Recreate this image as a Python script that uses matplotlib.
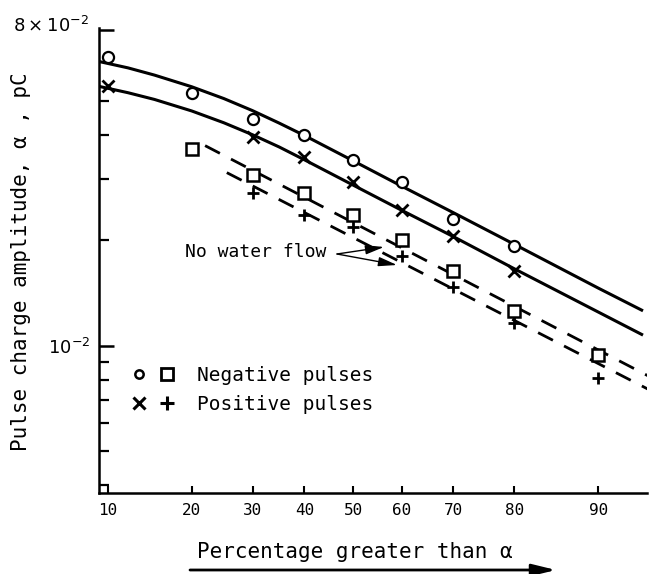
import numpy as np
import matplotlib
matplotlib.use('Agg')
import matplotlib.pyplot as plt
from matplotlib.lines import Line2D
from matplotlib.legend_handler import HandlerTuple
from matplotlib.transforms import ScaledTranslation
from statistics import NormalDist

# ---------------- data ----------------
pct_neg_circ = [10, 20, 30, 40, 50, 60, 70, 80]
amp_neg_circ = [0.0671, 0.0527, 0.0445, 0.0400, 0.0340, 0.0293, 0.0230, 0.0193]
pct_pos_cross = [10, 30, 40, 50, 60, 70, 80]
amp_pos_cross = [0.0554, 0.0396, 0.0346, 0.0294, 0.0244, 0.0206, 0.0164]
pct_neg_sq = [20, 30, 40, 50, 60, 70, 80, 90]
amp_neg_sq = [0.0364, 0.0308, 0.0273, 0.0236, 0.0200, 0.0164, 0.0126, 0.00939]
pct_pos_plus = [30, 40, 50, 60, 70, 80, 90]
amp_pos_plus = [0.0274, 0.0236, 0.0218, 0.0180, 0.0147, 0.0116, 0.00806]

# fitted curves (water flow)
curve_pct = [9.3, 12, 15, 20, 25, 30, 35, 40, 50, 60, 70, 80, 90, 93.5]
curve_neg = [0.0649, 0.0623, 0.0594, 0.0550, 0.0509, 0.0470, 0.0433, 0.0399,
             0.0338, 0.0286, 0.0240, 0.0195, 0.0146, 0.01258]
curve_pos = [0.0551, 0.0529, 0.0506, 0.0469, 0.0434, 0.0401, 0.0370, 0.0340,
             0.0288, 0.0244, 0.0205, 0.0166, 0.01247, 0.01072]

# fitted straight lines (no water flow)
flow_neg_pct = [22.0, 93.8]
flow_neg_amp = [0.03733, 0.00821]
flow_pos_pct = [25.5, 93.8]
flow_pos_amp = [0.03125, 0.00752]

xtick_vals = [10, 20, 30, 40, 50, 60, 70, 80, 90]
xtick_labels = ['10', '20', '30', '40', '50', '60', '70', '80', '90']
ytick_major = [8e-2, 1e-2]
ytick_major_labels = [r'$8\times10^{-2}$', r'$10^{-2}$']
ytick_minor = [5e-2, 4e-2, 3e-2, 2e-2, 9e-3, 8e-3, 7e-3, 6e-3, 5e-3, 4e-3]

# ---------------- style ----------------
plt.rcParams['font.family'] = ['DejaVu Sans Mono', 'DejaVu Sans']
plt.rcParams['mathtext.fontset'] = 'dejavusans'

fig = plt.figure(figsize=(6.56, 5.74), dpi=100)
W, H = 656, 574
L, R, T, B = 99, 647, 28, 493
ax = fig.add_axes([L / W, 1 - B / H, (R - L) / W, (B - T) / H])

_nd = NormalDist()
_ppf = np.vectorize(_nd.inv_cdf, otypes=[float])
_cdf = np.vectorize(_nd.cdf, otypes=[float])


def _fwd(p):
    p = np.clip(np.asarray(p, float) / 100.0, 1e-6, 1 - 1e-6)
    return _ppf(p)


def _inv(z):
    return 100.0 * _cdf(np.asarray(z, float))


ax.set_xscale('function', functions=(_fwd, _inv))
ax.set_yscale('log')

# curves
ax.plot(curve_pct, curve_neg, color='black', lw=2.2, solid_capstyle='butt')
ax.plot(curve_pct, curve_pos, color='black', lw=2.2, solid_capstyle='butt')
ax.plot(flow_neg_pct, flow_neg_amp, color='black', lw=2.0, dashes=(6, 4.5))
ax.plot(flow_pos_pct, flow_pos_amp, color='black', lw=2.0, dashes=(6, 4.5))

# markers
ax.plot(pct_neg_circ, amp_neg_circ, ls='none', marker='o', ms=8, mfc='white',
        mec='black', mew=1.6)
ax.plot(pct_pos_cross, amp_pos_cross, ls='none', marker='x', ms=8.5,
        mec='black', mew=2.0)
ax.plot(pct_neg_sq, amp_neg_sq, ls='none', marker='s', ms=9, mfc='white',
        mec='black', mew=1.8)
ax.plot(pct_pos_plus, amp_pos_plus, ls='none', marker='+', ms=9,
        mec='black', mew=2.0)

ax.set_xlim(9.24, 93.76)
ax.set_ylim(3.79e-3, 8.1e-2)

# spines
for s in ['top', 'right']:
    ax.spines[s].set_visible(False)
for s in ['left', 'bottom']:
    ax.spines[s].set_linewidth(1.8)

# ticks
ax.set_xticks(xtick_vals)
ax.set_xticklabels(xtick_labels)
ax.xaxis.set_minor_locator(matplotlib.ticker.NullLocator())
ax.tick_params(axis='x', which='major', direction='in', length=5, width=1.5,
               pad=7, labelsize=11.5)

ax.set_yticks(ytick_major)
ax.set_yticklabels(ytick_major_labels)
ax.set_yticks(ytick_minor, minor=True)
ax.yaxis.set_minor_formatter(matplotlib.ticker.NullFormatter())
ax.tick_params(axis='y', which='major', direction='in', length=11, width=1.8,
               pad=6, labelsize=13)
ax.tick_params(axis='y', which='minor', direction='in', length=7, width=1.6)

for lab in ax.get_yticklabels():
    if '8' in lab.get_text():
        lab.set_transform(lab.get_transform() +
                          ScaledTranslation(-1 / 72, 4 / 72, fig.dpi_scale_trans))

# axis labels
ax.set_ylabel('Pulse charge amplitude, α , pC', fontsize=15)
ax.yaxis.set_label_coords((21 - L) / (R - L), (B - 262) / (B - T))
ax.yaxis.label.set_va('center')
ax.set_xlabel('Percentage greater than α', fontsize=15)
ax.xaxis.set_label_coords((355 - L) / (R - L), (B - 542) / (B - T))

# arrow under the x label
ax.annotate('', xy=((556 - L) / (R - L), (B - 570) / (B - T)),
            xytext=((190 - L) / (R - L), (B - 570) / (B - T)),
            xycoords='axes fraction', textcoords='axes fraction',
            annotation_clip=False,
            arrowprops=dict(arrowstyle='-|>,head_length=0.9,head_width=0.22',
                            lw=2.0, color='black', shrinkA=0, shrinkB=0,
                            mutation_scale=16))

# "No water flow" annotation
tx, ty = (185 - L) / (R - L), (B - 252) / (B - T)
sx, sy = (337 - L) / (R - L), (B - 254) / (B - T)
ax.text(tx, ty, 'No water flow', transform=ax.transAxes, fontsize=13,
        ha='left', va='center')
for (ex, ey) in [((384 - L) / (R - L), (B - 247) / (B - T)),
                 ((397 - L) / (R - L), (B - 265) / (B - T))]:
    ax.annotate('', xy=(ex, ey), xytext=(sx, sy), xycoords='axes fraction',
                textcoords='axes fraction',
                arrowprops=dict(arrowstyle='-|>,head_length=0.8,head_width=0.2',
                                lw=1.0, color='black', shrinkA=0, shrinkB=0,
                                mutation_scale=14))

# legend
h_circ = Line2D([], [], ls='none', marker='o', ms=6, mfc='white', mec='black', mew=1.8)
h_sq = Line2D([], [], ls='none', marker='s', ms=8, mfc='white', mec='black', mew=2.0)
h_x = Line2D([], [], ls='none', marker='x', ms=9, mec='black', mew=2.2)
h_plus = Line2D([], [], ls='none', marker='+', ms=10, mec='black', mew=2.2)
leg = ax.legend([(h_circ, h_sq), (h_x, h_plus)],
                ['Negative pulses', 'Positive pulses'],
                handler_map={tuple: HandlerTuple(ndivide=None, pad=0.69)},
                loc='upper left',
                bbox_to_anchor=((131.6 - L) / (R - L), (B - 366) / (B - T)),
                frameon=False, borderpad=0, borderaxespad=0,
                handlelength=2.2, handletextpad=1.17, labelspacing=0.5,
                prop={'size': 14})

fig.savefig('out.png', dpi=100)
